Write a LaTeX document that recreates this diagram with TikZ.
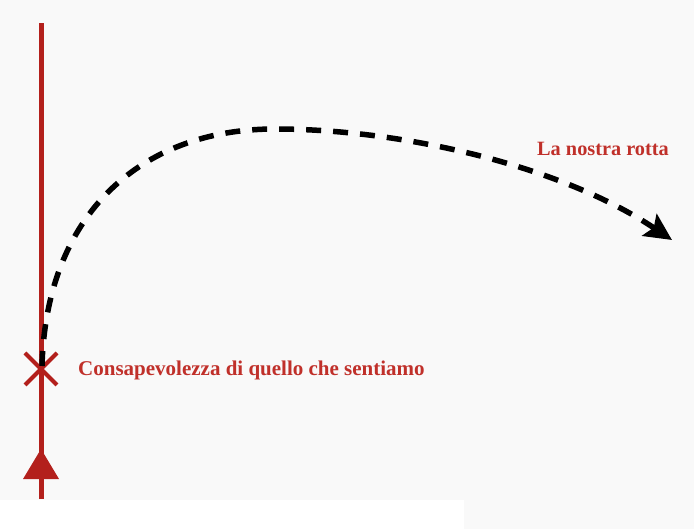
\documentclass[tikz,border=0pt]{standalone}
\usepackage{fontspec}
\setmainfont{Liberation Serif}
\usetikzlibrary{arrows.meta,calc}
\definecolor{bggray}{HTML}{F9F9F9}
\definecolor{linered}{HTML}{B3201C}
\definecolor{textred}{HTML}{C0302A}
\begin{document}
\begin{tikzpicture}[x=1pt,y=-1pt,
  redtext/.style={text=textred,font=\bfseries\fontsize{21}{24}\selectfont,inner sep=0pt},
  smallred/.style={redtext,font=\bfseries\fontsize{20.3}{24}\selectfont},
  axisline/.style={draw=linered,line width=5pt},
  crossmark/.style={draw=linered,line width=4pt},
  route/.style={draw=black,line width=5.5pt,dash pattern=on 15pt off 12pt,-{Stealth[length=27pt,width=26pt,inset=5pt]}}]
\useasboundingbox (0,0) rectangle (694,529);
\fill[bggray] (0,0) rectangle (694,529);
\fill[white] (0,500) rectangle (464,529);
% vertical line
\coordinate (top) at (41,23);
\coordinate (bottom) at (41,499);
\draw[axisline] (bottom) -- (top);
% triangle arrow head
\coordinate (tip) at (41,449);
\fill[linered] (tip) -- (59,479) -- (23,479) -- cycle;
% cross
\coordinate (x) at (41,369);
\draw[crossmark] ($(x)+(-16,-16)$) -- ($(x)+(16,16)$);
\draw[crossmark] ($(x)+(-16,16)$) -- ($(x)+(16,-16)$);
% route
\coordinate (start) at (42,366);
\coordinate (peak) at (275,129);
\coordinate (end) at (672,240);
\draw[route] (start) .. controls (46,215) and (140,129) .. (peak) .. controls (400,129) and (560,165) .. (end);
% labels
\node[redtext,anchor=west] (aware) at (78,370) {Consapevolezza di quello che sentiamo};
\node[smallred,anchor=west] (rotta) at (537,149) {La nostra rotta};
\end{tikzpicture}
\end{document}
